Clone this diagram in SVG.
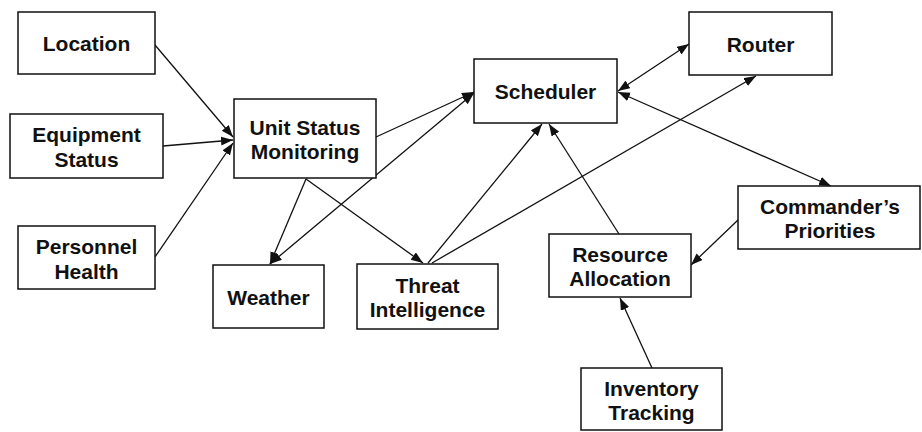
<svg xmlns="http://www.w3.org/2000/svg" width="922" height="432" viewBox="0 0 922 432">
<style>
.box{fill:#fff;stroke:#111;stroke-width:1.5}
.t{font-family:"Liberation Sans",Arial,sans-serif;font-weight:bold;font-size:21px;fill:#111;text-anchor:middle}
.c{stroke:#111;stroke-width:1.3;fill:none;marker-end:url(#ah)}
.bi{marker-start:url(#ah)}
</style>
<defs>
<marker id="ah" markerUnits="userSpaceOnUse" markerWidth="13" markerHeight="10" refX="12" refY="4.5" orient="auto-start-reverse"><path d="M0,0 L12,4.5 L0,9 z" fill="#111"/></marker>
</defs>
<rect width="922" height="432" fill="#fff"/>
<g id="connectors">
<path class="c" d="M155,45 L233,137"/>
<path class="c" d="M163,146 L233,140"/>
<path class="c" d="M155,257 L233,143"/>
<path class="c" d="M376,137 L474,92"/>
<path class="c bi" d="M270,264 L474,93"/>
<path class="c" d="M306,179 L270,264"/>
<path class="c" d="M306,179 L423,263"/>
<path class="c" d="M428,263 L542,124"/>
<path class="c" d="M432,263 L756,76"/>
<path class="c" d="M619,234 L549,124"/>
<path class="c bi" d="M618,91 L689,44"/>
<path class="c bi" d="M618,92 L831,186"/>
<path class="c" d="M738,220 L691,265"/>
<path class="c" d="M652,368 L620,298"/>
</g>
<g id="location"><rect class="box" x="18" y="12" width="137" height="62"/><text class="t" x="86.5" y="51">Location</text></g>
<g id="equipment-status"><rect class="box" x="10" y="114" width="153" height="64"/><text class="t" x="86.5" y="142">Equipment</text><text class="t" x="86.5" y="167">Status</text></g>
<g id="personnel-health"><rect class="box" x="18" y="226" width="137" height="63"/><text class="t" x="86.5" y="253.5">Personnel</text><text class="t" x="86.5" y="278.5">Health</text></g>
<g id="unit-status-monitoring"><rect class="box" x="234" y="99" width="142" height="79"/><text class="t" x="305" y="134.5">Unit Status</text><text class="t" x="305" y="159">Monitoring</text></g>
<g id="weather"><rect class="box" x="213" y="265" width="111" height="63"/><text class="t" x="268.5" y="304.5">Weather</text></g>
<g id="threat-intelligence"><rect class="box" x="357" y="264" width="141" height="65"/><text class="t" x="427.5" y="292.5">Threat</text><text class="t" x="427.5" y="317">Intelligence</text></g>
<g id="scheduler"><rect class="box" x="474" y="59" width="143" height="64"/><text class="t" x="545.5" y="99">Scheduler</text></g>
<g id="router"><rect class="box" x="689" y="12" width="143" height="63"/><text class="t" x="760.5" y="51.5">Router</text></g>
<g id="commanders-priorities"><rect class="box" x="738" y="186" width="182" height="63"/><text class="t" x="830" y="213.5">Commander’s</text><text class="t" x="830" y="238">Priorities</text></g>
<g id="resource-allocation"><rect class="box" x="549" y="234" width="142" height="63"/><text class="t" x="620" y="261.5">Resource</text><text class="t" x="620" y="286">Allocation</text></g>
<g id="inventory-tracking"><rect class="box" x="581" y="368" width="141" height="62"/><text class="t" x="651.5" y="395.5">Inventory</text><text class="t" x="651.5" y="420">Tracking</text></g>
</svg>
